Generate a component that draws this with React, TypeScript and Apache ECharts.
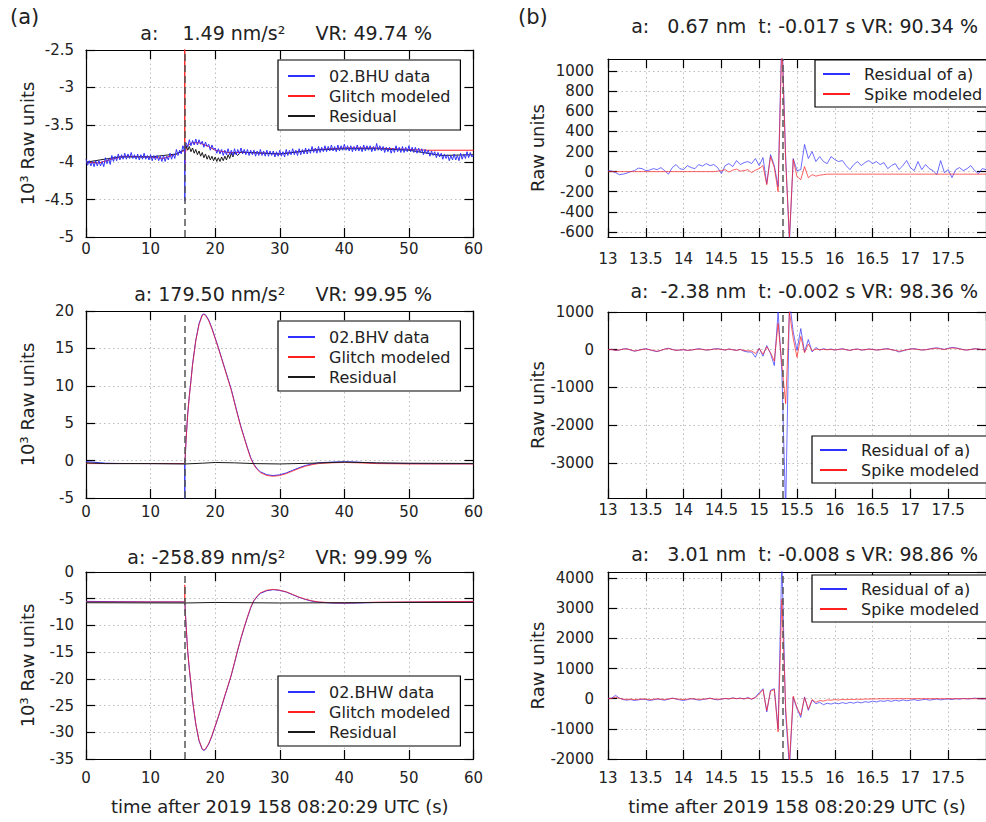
import React, { useEffect, useRef } from "react";
import * as echarts from "echarts";

type Pt = [number, number];

const FONT = "'DejaVu Sans', sans-serif";
const BLUE = "#3030ff";
const RED = "#ff2020";
const BLACK = "#1a1a1a";

const EVENT_TIME = 15.31;
const X_NAME = "time after 2019 158 08:20:29 UTC (s)";

// ---------- (a) top: 02.BHU, 0.25 s samples from 0 s ----------
const BHU_DT = 0.25;
const bhuData = [
  -3.96, -4.04, -3.98, -4.05, -3.99, -4.06, -3.98, -4.05, -3.98, -4.05, -3.99, -4.06,
  -3.94, -4.02, -3.95, -4.03, -3.91, -3.99, -3.92, -3.98, -3.89, -3.97, -3.9, -3.96,
  -3.88, -3.96, -3.89, -3.95, -3.87, -3.95, -3.9, -3.96, -3.89, -3.97, -3.9, -3.96,
  -3.88, -3.96, -3.91, -3.97, -3.9, -3.98, -3.91, -3.97, -3.91, -3.98, -3.92, -3.99,
  -3.91, -3.99, -3.92, -3.97, -3.88, -3.96, -3.89, -3.95, -3.83, -3.91, -3.84, -3.89,
  -3.78, -3.84, -3.74, -3.8, -3.7, -3.78, -3.71, -3.77, -3.69, -3.77, -3.7, -3.76,
  -3.72, -3.8, -3.73, -3.79, -3.76, -3.84, -3.77, -3.83, -3.81, -3.88, -3.82, -3.89,
  -3.83, -3.91, -3.84, -3.9, -3.82, -3.9, -3.84, -3.91, -3.82, -3.9, -3.83, -3.89,
  -3.81, -3.89, -3.83, -3.9, -3.83, -3.91, -3.84, -3.9, -3.84, -3.92, -3.85, -3.91,
  -3.83, -3.91, -3.85, -3.92, -3.84, -3.92, -3.85, -3.91, -3.85, -3.93, -3.86, -3.92,
  -3.84, -3.92, -3.86, -3.93, -3.83, -3.91, -3.84, -3.9, -3.82, -3.9, -3.84, -3.91,
  -3.82, -3.9, -3.83, -3.89, -3.81, -3.89, -3.82, -3.88, -3.79, -3.87, -3.81, -3.88,
  -3.79, -3.87, -3.8, -3.86, -3.78, -3.86, -3.79, -3.85, -3.77, -3.85, -3.79, -3.86,
  -3.77, -3.85, -3.78, -3.84, -3.76, -3.84, -3.78, -3.85, -3.78, -3.86, -3.79, -3.85,
  -3.77, -3.85, -3.79, -3.86, -3.77, -3.85, -3.78, -3.84, -3.78, -3.86, -3.79, -3.85,
  -3.75, -3.84, -3.78, -3.85, -3.79, -3.87, -3.8, -3.86, -3.8, -3.88, -3.81, -3.87,
  -3.78, -3.86, -3.8, -3.87, -3.79, -3.87, -3.8, -3.86, -3.78, -3.86, -3.8, -3.87,
  -3.8, -3.88, -3.81, -3.87, -3.82, -3.9, -3.83, -3.89, -3.84, -3.92, -3.85, -3.91,
  -3.86, -3.94, -3.87, -3.93, -3.88, -3.96, -3.89, -3.95, -3.9, -3.98, -3.91, -3.97,
  -3.89, -3.97, -3.91, -3.98, -3.88, -3.96, -3.89, -3.95, -3.86, -3.94, -3.87, -3.93,
  -3.9,
];
const bhuSpike: Pt[] = [[15.29, -3.8], [15.3, -4.52], [15.31, -3.79]];
const bhuGlitch: Pt[] = [
  [0, -4.0], [2, -4.01], [4, -3.96], [6, -3.92], [10, -3.93], [12, -3.95], [14, -3.89],
  [15, -3.85], [15.28, -3.85], [15.29, -2.3], [15.31, -4.12], [15.33, -3.9], [15.6, -3.78],
  [16.5, -3.74], [17.5, -3.74], [19, -3.79], [20, -3.84], [22, -3.87], [25, -3.87],
  [28, -3.88], [30, -3.89], [33, -3.86], [36, -3.83], [40, -3.81], [45, -3.81],
  [50, -3.83], [53, -3.84], [60, -3.84],
];
const bhuResidual: Pt[] = [
  [0, -4.0], [5, -3.93], [10, -3.93], [14, -3.89], [15.3, -3.83], [15.5, -3.78],
  [15.75, -3.84], [16, -3.79], [16.25, -3.86], [16.5, -3.81], [16.75, -3.88], [17, -3.83],
  [17.25, -3.9], [17.5, -3.85], [17.75, -3.92], [18, -3.87], [18.25, -3.94], [18.5, -3.89],
  [18.75, -3.96], [19, -3.91], [19.25, -3.97], [19.5, -3.92], [19.75, -3.98], [20, -3.93],
  [20.25, -3.99], [20.5, -3.94], [20.75, -3.99], [21, -3.93], [21.25, -3.98], [21.5, -3.92],
  [21.75, -3.97], [22, -3.9], [22.25, -3.95], [22.5, -3.88], [22.75, -3.93], [23, -3.87],
  [23.5, -3.91], [24, -3.86], [25, -3.87], [30, -3.89], [35, -3.84], [40, -3.82],
  [45, -3.82], [50, -3.84], [55, -3.91], [60, -3.9],
];

// ---------- (a) middle: 02.BHV ----------
const bhvData: Pt[] = [
  [0, -0.15], [1, -0.2], [2, -0.28], [3, -0.35], [5, -0.38], [10, -0.4], [15, -0.4],
  [15.28, -0.4], [15.3, -6.0], [15.32, -0.4], [15.5, 2.9], [15.75, 6.3], [16, 8.7],
  [16.25, 10.7], [16.5, 12.9], [17, 16.1], [17.5, 18.3], [18, 19.5], [18.25, 19.6],
  [18.5, 19.5], [19, 18.8], [19.5, 17.7], [20, 16.4], [20.5, 15.1], [21, 13.7],
  [21.5, 12.3], [22, 10.9], [22.5, 9.5], [23, 7.8], [23.5, 6.1], [24, 4.5], [24.5, 3.1],
  [25, 1.7], [25.5, 0.4], [26, -0.5], [26.5, -1.1], [27, -1.5], [28, -1.9], [29, -2.0],
  [30, -1.9], [31, -1.65], [32, -1.3], [33, -0.95], [34, -0.65], [35, -0.45], [36, -0.3],
  [38, -0.2], [40, -0.15], [42, -0.2], [45, -0.35], [50, -0.4], [55, -0.42], [60, -0.42],
];
const bhvGlitch: Pt[] = [
  [0, -0.4], [5, -0.4], [10, -0.4], [15, -0.4], [15.3, -0.4], [15.5, 2.8], [15.75, 6.2],
  [16, 8.6], [16.25, 10.6], [16.5, 12.8], [17, 16.0], [17.5, 18.2], [18, 19.4],
  [18.25, 19.55], [18.5, 19.4], [19, 18.7], [19.5, 17.6], [20, 16.3], [20.5, 15.0],
  [21, 13.6], [21.5, 12.2], [22, 10.8], [22.5, 9.4], [23, 7.7], [23.5, 6.0], [24, 4.4],
  [24.5, 3.0], [25, 1.6], [25.5, 0.3], [26, -0.6], [26.5, -1.2], [27, -1.6], [28, -2.0],
  [29, -2.1], [30, -2.0], [31, -1.75], [32, -1.4], [33, -1.05], [34, -0.75], [35, -0.55],
  [36, -0.4], [38, -0.3], [40, -0.25], [42, -0.3], [45, -0.4], [50, -0.45], [55, -0.45],
  [60, -0.45],
];
const bhvResidual: Pt[] = [
  [0, -0.3], [3, -0.4], [10, -0.4], [15.3, -0.45], [18, -0.35], [20, -0.25], [23, -0.3],
  [26, -0.4], [30, -0.45], [35, -0.35], [40, -0.2], [45, -0.3], [50, -0.35], [60, -0.38],
];

// ---------- (a) bottom: 02.BHW ----------
const bhwData: Pt[] = [
  [0, -5.5], [5, -5.55], [10, -5.6], [15, -5.6], [15.3, -5.7], [15.5, -10.1], [15.75, -14.9],
  [16, -18.2], [16.25, -21.0], [16.5, -24.1], [17, -28.5], [17.5, -31.6], [18, -33.2],
  [18.25, -33.4], [18.5, -33.2], [19, -32.2], [19.5, -30.7], [20, -28.9], [20.5, -27.1],
  [21, -25.2], [21.5, -23.2], [22, -21.3], [22.5, -19.3], [23, -17.0], [23.5, -14.6],
  [24, -12.4], [24.5, -10.4], [25, -8.5], [25.5, -6.7], [26, -5.4], [26.5, -4.6],
  [27, -4.0], [28, -3.5], [29, -3.3], [30, -3.45], [31, -3.75], [32, -4.25], [33, -4.75],
  [34, -5.15], [35, -5.45], [36, -5.65], [38, -5.8], [40, -5.85], [42, -5.8], [45, -5.7],
  [50, -5.65], [55, -5.6], [60, -5.55],
];
const bhwGlitch: Pt[] = [
  [0, -5.6], [5, -5.6], [10, -5.6], [15, -5.6], [15.28, -5.6], [15.29, -2.4], [15.31, -5.9],
  [15.5, -10.0], [15.75, -14.8], [16, -18.1], [16.25, -20.9], [16.5, -24.0], [17, -28.4],
  [17.5, -31.5], [18, -33.1], [18.25, -33.3], [18.5, -33.1], [19, -32.1], [19.5, -30.6],
  [20, -28.8], [20.5, -27.0], [21, -25.1], [21.5, -23.1], [22, -21.2], [22.5, -19.2],
  [23, -16.9], [23.5, -14.5], [24, -12.3], [24.5, -10.3], [25, -8.4], [25.5, -6.6],
  [26, -5.3], [26.5, -4.5], [27, -3.9], [28, -3.4], [29, -3.25], [30, -3.4], [31, -3.7],
  [32, -4.2], [33, -4.7], [34, -5.1], [35, -5.4], [36, -5.6], [38, -5.75], [40, -5.8],
  [42, -5.75], [45, -5.65], [50, -5.6], [55, -5.55], [60, -5.5],
];
const bhwResidual: Pt[] = [
  [0, -5.75], [15.3, -5.8], [20, -5.7], [30, -5.8], [40, -5.75], [50, -5.7], [60, -5.7],
];

// ---------- (b) spike fits: 0.05 s samples from 13 s ----------
const SPIKE_T0 = 13;
const SPIKE_DT = 0.05;
const uResidual = [
  10, 5, -10, -30, -25, -15, 0, 10, 35, 30,
  10, 15, 30, 20, 40, 10, -25, 40, 70, 30,
  20, 60, 40, 30, 70, 55, 80, 60, 70, 40,
  -20, 60, 80, 50, 110, 70, 90, 100, 80, 130,
  60, 140, -120, 170, 60, -150, 1400, 150, -700, 130,
  10, 20, 270, 130, 200, 100, 150, 100, 80, 150,
  120, 100, 110, 60, 20, 70, 100, 60, 90, 110,
  80, 100, 70, 90, 30, 60, 80, 20, 60, 110,
  40, 10, 100, 20, 70, 30, 10, -30, 110, -10,
  20, -60, 20, 40, 10, 30, 60, 10, -20, 30,
  20,
];
const uSpike = [
  0, 0, 0, 0, 0, 0, 0, 0, 0, 0,
  0, 0, 0, 0, 0, 0, 0, 0, 0, 0,
  0, 0, 0, 0, 0, 0, 0, 0, 0, 5,
  10, 20, -5, 15, 25, 5, 10, 20, -10, 15,
  30, 60, -130, 150, 40, -200, 1300, 100, -650, 120,
  -50, -80, 50, -60, -30, -45, -35, -30, -25, -25,
  -25, -25, -25, -25, -25, -25, -25, -25, -25, -25,
  -25, -25, -25, -25, -25, -25, -25, -25, -25, -25,
  -25, -25, -25, -25, -25, -25, -25, -25, -25, -25,
  -25, -25, -25, -25, -25, -25, -25, -25, -25, -25,
  -25,
];
const vResidual = [
  0, 10, -20, -10, 20, 30, -10, -40, -20, 10,
  30, 0, -30, -50, -20, 20, 40, 10, -20, -10,
  0, -20, -10, 10, 30, 10, -10, 0, 20, 30,
  10, -10, 20, 0, -20, 10, -40, -60, -60, -200,
  40, -170, 110, -100, -420, 1000, -600, -4300, 1300, 470,
  -20, 560, -60, 270, -60, 60, -10, 30, 0, 20,
  -10, 10, 30, 0, -20, 10, 20, -10, 0, 20,
  10, -10, 0, 20, 30, 0, -20, -60, -30, 0,
  20, 30, 10, -10, 0, 20, 40, 50, 30, 10,
  40, 60, 50, 30, 0, -10, 10, 30, 20, 0,
  10,
];
const vSpike = [
  0, 5, -15, -5, 15, 20, -5, -30, -15, 5,
  20, 0, -20, -40, -15, 15, 30, 5, -15, -5,
  0, -15, -5, 5, 20, 5, -5, 0, 15, 20,
  5, -5, 15, 0, -15, 5, -20, -30, -30, -100,
  30, -120, 80, -80, -300, 700, -400, -1430, 1000, 300,
  -200, 350, -80, 150, -30, 20, 0, 10, 0, 10,
  -5, 5, 20, 0, -15, 5, 15, -5, 0, 15,
  5, -5, 0, 15, 20, 0, -15, -40, -20, 0,
  15, 20, 5, -5, 0, 15, 30, 40, 20, 5,
  30, 45, 40, 20, 0, -5, 5, 20, 15, 0,
  5,
];
const wResidual = [
  0, 20, 110, 20, -30, -50, -30, -60, -40, -20,
  -30, -60, -40, -10, -30, -50, -20, 20, -10, -40,
  -60, -30, 0, -20, -50, -30, -10, 20, -20, -40,
  -20, 10, -10, 30, 0, 20, -10, 40, -20, 50,
  200, 330, -440, 280, 330, -1000, 4600, -500, -2300, 50,
  -330, -620, 60, -390, -50, -170, -120, -200, -150, -180,
  -140, -170, -130, -160, -120, -150, -110, -140, -100, -120,
  -80, -110, -70, -90, -60, -90, -50, -80, -40, -70,
  -50, -30, -60, -40, -20, -50, -30, -10, -40, -20,
  -10, -30, 0, -20, 10, -10, 0, 20, 0, -10,
  0,
];
const wSpike = [
  0, 10, 50, 10, -15, -25, -15, -30, -20, -10,
  -15, -30, -20, -5, -15, -25, -10, 10, -5, -20,
  -30, -15, 0, -10, -25, -15, -5, 10, -10, -20,
  -10, 5, -5, 15, 0, 10, -5, 20, -10, 30,
  150, 300, -400, 250, 300, -1100, 3300, -300, -2100, 80,
  -300, -550, 40, -350, -30, -120, -60, -80, -40, -50,
  -30, -45, -25, -35, -20, -30, -15, -25, -10, -15,
  -5, -10, 0, -5, 0, -5, 0, 0, 0, 0,
  0, 0, 0, 0, 0, 0, 0, 0, 0, 0,
  0, 0, 0, 0, 0, 0, 0, 0, 0, 0,
  0,
];

const TITLES = [
  "a:    1.49 nm/s²     VR: 49.74 %",
  "a: 179.50 nm/s²     VR: 99.95 %",
  "a: -258.89 nm/s²     VR: 99.99 %",
  "a:   0.67 nm  t: -0.017 s VR: 90.34 %",
  "a:  -2.38 nm  t: -0.002 s VR: 98.36 %",
  "a:   3.01 nm  t: -0.008 s VR: 98.86 %",
];

const R1_TICKS = [-600, -400, -200, 0, 200, 400, 600, 800, 1000];
const R2_TICKS = [-3000, -2000, -1000, 0, 1000];

function regular(t0: number, dt: number, vals: number[]): Pt[] {
  return vals.map((v, i) => [Math.round((t0 + i * dt) * 1000) / 1000, v] as Pt);
}
function merged(a: Pt[], b: Pt[]): Pt[] {
  return [...a, ...b].sort((p, q) => p[0] - q[0]);
}

type SeriesDef = { name: string; data: Pt[]; color: string; opacity?: number };
type Panel = {
  grid: { left: number; top: number; width: number; height: number };
  x: { min: number; max: number; interval: number };
  y: { min: number; max: number; interval?: number; custom?: number[] };
  yName: string;
  yNameGap: number;
  yLabelMargin: number;
  xLabelMargin: number;
  xName?: string;
  series: SeriesDef[];
  legendOrder: string[];
  legend: { left: number; top: number; padding: number[] };
  title: { text: string; x: number; y: number };
};

const LEFT_W = 387.5;
const RIGHT_W = 392;
const LEFT_PAD = [8, 10, 6, 10];
const RIGHT_PAD = [6, 10, 5, 8];

const panels: Panel[] = [
  {
    grid: { left: 86, top: 50, width: LEFT_W, height: 187 },
    x: { min: 0, max: 60, interval: 10 },
    y: { min: -5, max: -2.5, interval: 0.5 },
    yName: "10³ Raw units", yNameGap: 50, yLabelMargin: 12, xLabelMargin: 4,
    series: [
      { name: "Glitch modeled", data: bhuGlitch, color: RED },
      { name: "Residual", data: bhuResidual, color: BLACK },
      { name: "02.BHU data", data: merged(regular(0, BHU_DT, bhuData), bhuSpike), color: BLUE },
    ],
    legendOrder: ["02.BHU data", "Glitch modeled", "Residual"],
    legend: { left: 278, top: 60, padding: LEFT_PAD },
    title: { text: TITLES[0], x: 432, y: 33 },
  },
  {
    grid: { left: 86, top: 311, width: LEFT_W, height: 187 },
    x: { min: 0, max: 60, interval: 10 },
    y: { min: -5, max: 20, interval: 5 },
    yName: "10³ Raw units", yNameGap: 50, yLabelMargin: 12, xLabelMargin: 6,
    series: [
      { name: "02.BHV data", data: bhvData, color: BLUE },
      { name: "Glitch modeled", data: bhvGlitch, color: RED, opacity: 0.75 },
      { name: "Residual", data: bhvResidual, color: BLACK },
    ],
    legendOrder: ["02.BHV data", "Glitch modeled", "Residual"],
    legend: { left: 278, top: 321, padding: LEFT_PAD },
    title: { text: TITLES[1], x: 432, y: 294 },
  },
  {
    grid: { left: 86, top: 572, width: LEFT_W, height: 187 },
    x: { min: 0, max: 60, interval: 10 },
    y: { min: -35, max: 0, interval: 5 },
    yName: "10³ Raw units", yNameGap: 50, yLabelMargin: 12, xLabelMargin: 11,
    xName: X_NAME,
    series: [
      { name: "02.BHW data", data: bhwData, color: BLUE },
      { name: "Glitch modeled", data: bhwGlitch, color: RED, opacity: 0.75 },
      { name: "Residual", data: bhwResidual, color: BLACK },
    ],
    legendOrder: ["02.BHW data", "Glitch modeled", "Residual"],
    legend: { left: 278, top: 676, padding: LEFT_PAD },
    title: { text: TITLES[2], x: 432, y: 557 },
  },
  {
    grid: { left: 608, top: 59, width: RIGHT_W, height: 178 },
    x: { min: 13, max: 18, interval: 0.5 },
    y: { min: -650, max: 1120, custom: R1_TICKS },
    yName: "Raw units", yNameGap: 62, yLabelMargin: 14, xLabelMargin: 14,
    series: [
      { name: "Residual of a)", data: regular(SPIKE_T0, SPIKE_DT, uResidual), color: BLUE, opacity: 0.7 },
      { name: "Spike modeled", data: regular(SPIKE_T0, SPIKE_DT, uSpike), color: RED, opacity: 0.7 },
    ],
    legendOrder: ["Residual of a)", "Spike modeled"],
    legend: { left: 815, top: 60, padding: RIGHT_PAD },
    title: { text: TITLES[3], x: 978, y: 26 },
  },
  {
    grid: { left: 608, top: 312, width: RIGHT_W, height: 186 },
    x: { min: 13, max: 18, interval: 0.5 },
    y: { min: -3930, max: 1000, custom: R2_TICKS },
    yName: "Raw units", yNameGap: 62, yLabelMargin: 14, xLabelMargin: 4,
    series: [
      { name: "Residual of a)", data: regular(SPIKE_T0, SPIKE_DT, vResidual), color: BLUE, opacity: 0.7 },
      { name: "Spike modeled", data: regular(SPIKE_T0, SPIKE_DT, vSpike), color: RED, opacity: 0.7 },
    ],
    legendOrder: ["Residual of a)", "Spike modeled"],
    legend: { left: 812, top: 436, padding: RIGHT_PAD },
    title: { text: TITLES[4], x: 978, y: 291 },
  },
  {
    grid: { left: 608, top: 572, width: RIGHT_W, height: 187 },
    x: { min: 13, max: 18, interval: 0.5 },
    y: { min: -2000, max: 4200, interval: 1000 },
    yName: "Raw units", yNameGap: 62, yLabelMargin: 14, xLabelMargin: 11,
    xName: X_NAME,
    series: [
      { name: "Residual of a)", data: regular(SPIKE_T0, SPIKE_DT, wResidual), color: BLUE, opacity: 0.7 },
      { name: "Spike modeled", data: regular(SPIKE_T0, SPIKE_DT, wSpike), color: RED, opacity: 0.7 },
    ],
    legendOrder: ["Residual of a)", "Spike modeled"],
    legend: { left: 812, top: 575, padding: RIGHT_PAD },
    title: { text: TITLES[5], x: 978, y: 554 },
  },
];

const labelFmt = (v: number) => String(Math.round(v * 1000) / 1000);

function buildOption() {
  const grid: any[] = [];
  const xAxis: any[] = [];
  const yAxis: any[] = [];
  const series: any[] = [];
  const legend: any[] = [];
  const graphic: any[] = [];

  const tickStyle = { show: true, inside: true, length: 9, lineStyle: { color: "#000", width: 1.2 } };
  const lineAxis = { show: true, onZero: false, lineStyle: { color: "#000", width: 1.2 } };
  const splitLine = { show: true, lineStyle: { color: "#bdbdbd", type: [1.5, 3], width: 1 } };
  const labelText = { fontFamily: FONT, fontSize: 15, color: "#222" };

  panels.forEach((p, i) => {
    grid.push({ ...p.grid, containLabel: false, show: false });
    const xBase = { type: "value", gridIndex: i, min: p.x.min, max: p.x.max, interval: p.x.interval };
    xAxis.push({
      ...xBase,
      position: "bottom",
      axisLine: lineAxis,
      axisTick: tickStyle,
      axisLabel: { ...labelText, margin: p.xLabelMargin, formatter: labelFmt, showMaxLabel: p.x.max === 60 },
      splitLine,
      name: p.xName,
      nameLocation: "middle",
      nameGap: 38,
      nameTextStyle: { fontFamily: FONT, fontSize: 18, color: "#222" },
    });
    xAxis.push({
      ...xBase,
      position: "top",
      axisLine: lineAxis,
      axisTick: tickStyle,
      axisLabel: { show: false },
      splitLine: { show: false },
    });
    const yBase: any = { type: "value", gridIndex: i, min: p.y.min, max: p.y.max };
    if (p.y.interval) yBase.interval = p.y.interval;
    const yTick: any = { ...tickStyle };
    const yLabel: any = { ...labelText, margin: p.yLabelMargin, formatter: labelFmt };
    if (p.y.custom) {
      yTick.customValues = p.y.custom;
      yLabel.customValues = p.y.custom;
    }
    yAxis.push({
      ...yBase,
      position: "left",
      axisLine: lineAxis,
      axisTick: yTick,
      axisLabel: yLabel,
      splitLine,
      name: p.yName,
      nameLocation: "middle",
      nameGap: p.yNameGap,
      nameRotate: 90,
      nameTextStyle: { fontFamily: FONT, fontSize: 18, color: "#222" },
    });
    yAxis.push({
      ...yBase,
      position: "right",
      axisLine: lineAxis,
      axisTick: yTick,
      axisLabel: { show: false },
      splitLine: { show: false },
    });

    p.series.forEach((s) => {
      series.push({
        type: "line",
        name: s.name,
        data: s.data,
        xAxisIndex: 2 * i,
        yAxisIndex: 2 * i,
        showSymbol: false,
        symbol: "none",
        color: s.color,
        lineStyle: { color: s.color, width: 1, opacity: s.opacity ?? 1 },
        itemStyle: { color: s.color },
        silent: true,
        z: 2,
      });
    });
    series.push({
      type: "line",
      name: "event",
      data: [],
      xAxisIndex: 2 * i,
      yAxisIndex: 2 * i,
      z: 3,
      silent: true,
      markLine: {
        silent: true,
        symbol: ["none", "none"],
        label: { show: false },
        lineStyle: { color: "#555", type: [7, 4], width: 1.5 },
        data: [{ xAxis: EVENT_TIME }],
      },
    });

    legend.push({
      orient: "vertical",
      left: p.legend.left,
      top: p.legend.top,
      data: p.legendOrder,
      icon: "rect",
      itemWidth: 27,
      itemHeight: 2,
      itemGap: 4,
      selectedMode: false,
      padding: p.legend.padding,
      borderColor: "#000",
      borderWidth: 1.2,
      backgroundColor: "#fff",
      textStyle: { fontFamily: FONT, fontSize: 16, color: "#222", lineHeight: 16, padding: [0, 0, 0, 9] },
    });

    graphic.push({
      type: "text",
      x: p.title.x,
      y: p.title.y,
      style: {
        text: p.title.text,
        fontFamily: FONT,
        fontSize: 19,
        fill: "#222",
        textAlign: "right",
        textVerticalAlign: "middle",
      },
    });
  });

  graphic.push({
    type: "text",
    x: 10,
    y: 17,
    style: { text: "(a)", fontFamily: FONT, fontSize: 21, fill: "#222", textAlign: "left", textVerticalAlign: "middle" },
  });
  graphic.push({
    type: "text",
    x: 518,
    y: 17,
    style: { text: "(b)", fontFamily: FONT, fontSize: 21, fill: "#222", textAlign: "left", textVerticalAlign: "middle" },
  });

  return {
    animation: false,
    backgroundColor: "#fff",
    grid,
    xAxis,
    yAxis,
    series,
    legend,
    graphic,
  };
}

export default function App() {
  const ref = useRef<HTMLDivElement>(null);
  useEffect(() => {
    if (!ref.current) return;
    const chart = echarts.init(ref.current, undefined, { renderer: "svg" });
    chart.setOption(buildOption() as any);
    return () => chart.dispose();
  }, []);
  return (
    <div
      ref={ref}
      style={{ position: "absolute", left: 0, top: 0, width: 986, height: 822, overflow: "hidden" }}
    />
  );
}
